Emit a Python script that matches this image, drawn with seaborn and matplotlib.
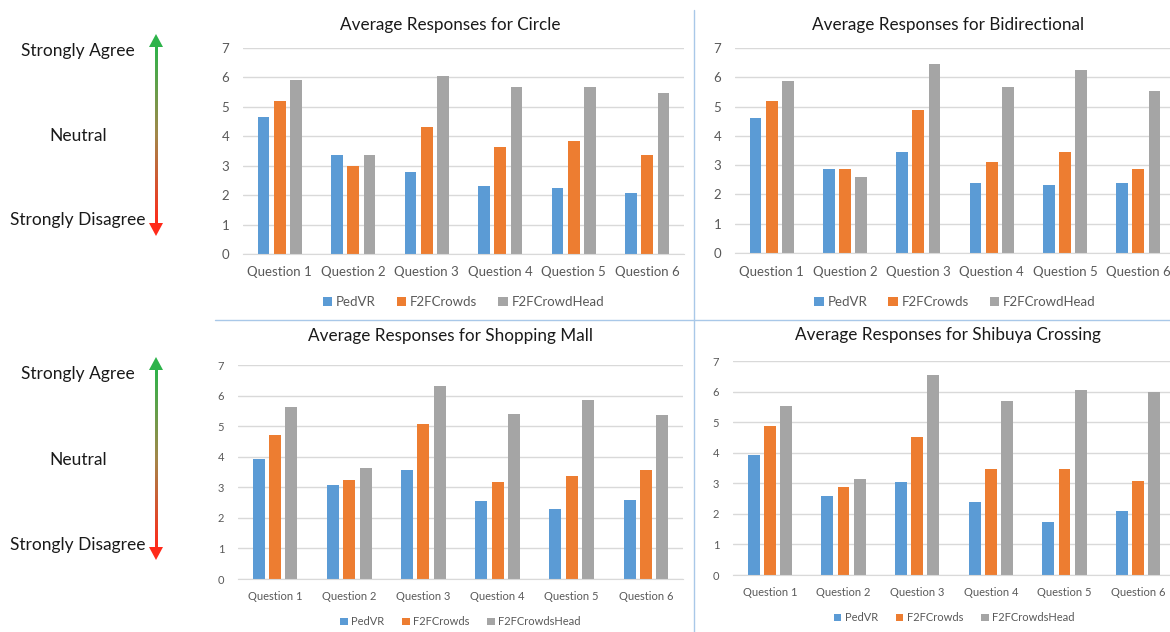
import pandas as pd
import seaborn as sns
import matplotlib.pyplot as plt
import numpy as np
from matplotlib.colors import LinearSegmentedColormap
from matplotlib.patches import Polygon

# values
questions = ['Question 1', 'Question 2', 'Question 3', 'Question 4', 'Question 5', 'Question 6']

circle_pedvr = [4.64, 3.37, 2.79, 2.30, 2.23, 2.06]
circle_crowds = [5.20, 3.00, 4.33, 3.65, 3.85, 3.37]
circle_head = [5.91, 3.37, 6.05, 5.66, 5.66, 5.46]

bidir_pedvr = [4.60, 2.88, 3.45, 2.39, 2.32, 2.39]
bidir_crowds = [5.19, 2.88, 4.88, 3.11, 3.45, 2.88]
bidir_head = [5.88, 2.60, 6.47, 5.66, 6.25, 5.52]

mall_pedvr = [3.93, 3.07, 3.56, 2.54, 2.28, 2.57]
mall_crowds = [4.71, 3.23, 5.07, 3.17, 3.36, 3.56]
mall_head = [5.61, 3.63, 6.32, 5.40, 5.87, 5.37]

shibuya_pedvr = [3.93, 2.59, 3.04, 2.38, 1.73, 2.09]
shibuya_crowds = [4.89, 2.88, 4.53, 3.48, 3.48, 3.08]
shibuya_head = [5.52, 3.14, 6.54, 5.68, 6.05, 5.99]

scale_labels = ['Strongly Agree', 'Neutral', 'Strongly Disagree']

colors = ['#5B9BD5', '#ED7D31', '#A5A5A5']

sns.set_style('white')
plt.rcParams['font.family'] = ['Lato', 'DejaVu Sans']

W, H = 1170, 632
fig = plt.figure(figsize=(W / 100, H / 100), dpi=100)

# full-figure overlay in pixel coordinates for separators and the scale
bg = fig.add_axes([0, 0, 1, 1])
bg.axis('off')
sep = '#A9C8E8'
bg.plot([694, 694], [10, H], color=sep, lw=1)
bg.plot([215, W], [320, 320], color=sep, lw=1)

cmap = LinearSegmentedColormap.from_list('scale', ['#2DB34A', '#A3884A', '#FF2A1A'])
grad = np.linspace(0, 1, 256).reshape(-1, 1)


def draw_scale(top, bottom, text_y):
    x = 156
    # gradient shaft
    bg.imshow(grad, cmap=cmap, aspect='auto', origin='upper',
              extent=(x - 1.4, x + 1.4, bottom - 12, top + 12), interpolation='bilinear')
    bg.add_patch(Polygon([(x, top), (x - 7, top + 13), (x + 7, top + 13)], color=cmap(0.0), lw=0))
    bg.add_patch(Polygon([(x, bottom), (x - 7, bottom - 13), (x + 7, bottom - 13)], color=cmap(1.0), lw=0))
    for lab, ty in zip(scale_labels, text_y):
        bg.text(78, ty, lab, ha='center', va='center', fontsize=12.5, color='#1a1a1a')


draw_scale(34, 236, [51, 136, 220])
draw_scale(357, 560, [374, 460, 545])
bg.set_xlim(0, W)
bg.set_ylim(H, 0)


def panel_frame(pedvr, crowds, head, head_name):
    return pd.DataFrame({
        'question': questions * 3,
        'value': pedvr + crowds + head,
        'method': ['PedVR'] * 6 + ['F2FCrowds'] * 6 + [head_name] * 6,
    })


def draw_panel(df, rect, title, title_xy, tick_fs, legend_y, legend_fs):
    x0, y0, x1, y1 = rect
    ax = fig.add_axes([x0 / W, 1 - y1 / H, (x1 - x0) / W, (y1 - y0) / H])
    sns.barplot(data=df, x='question', y='value', hue='method', palette=colors,
                width=0.66, gap=0.27, ax=ax, saturation=1, edgecolor='none')
    ax.set_ylim(0, 7)
    ax.set_xlim(-0.5, 5.5)
    ax.set_yticks(range(8))
    ax.set_xlabel('')
    ax.set_ylabel('')
    ax.grid(axis='y', color='#D9D9D9', lw=1)
    ax.set_axisbelow(True)
    for s in ['top', 'right', 'left']:
        ax.spines[s].set_visible(False)
    ax.spines['bottom'].set_color('#D9D9D9')
    ax.tick_params(length=0, labelsize=tick_fs, labelcolor='#595959')
    ax.tick_params(axis='y', pad=10)
    ax.tick_params(axis='x', pad=9)
    sns.move_legend(ax, 'center', bbox_to_anchor=(0.5, legend_y), ncol=3, frameon=False,
                    title=None, fontsize=legend_fs, handlelength=0.7, handleheight=0.7,
                    handletextpad=0.3, columnspacing=1.6, labelcolor='#595959')
    fig.text(title_xy[0] / W, 1 - title_xy[1] / H, title, ha='center', va='center',
             fontsize=12.3, color='#1a1a1a')
    return ax


draw_panel(panel_frame(circle_pedvr, circle_crowds, circle_head, 'F2FCrowdHead'),
           (243, 48, 684, 254), 'Average Responses for Circle', (450, 25), 9.5, -0.233, 9.5)
draw_panel(panel_frame(bidir_pedvr, bidir_crowds, bidir_head, 'F2FCrowdHead'),
           (735, 48, 1175, 253), 'Average Responses for Bidirectional', (948, 25), 9.5, -0.238, 9.5)
draw_panel(panel_frame(mall_pedvr, mall_crowds, mall_head, 'F2FCrowdsHead'),
           (238, 365, 683, 579), 'Average Responses for Shopping Mall', (450, 336), 8, -0.2, 8)
draw_panel(panel_frame(shibuya_pedvr, shibuya_crowds, shibuya_head, 'F2FCrowdsHead'),
           (733, 361, 1175, 575), 'Average Responses for Shibuya Crossing', (948, 335), 8, -0.2, 8)

fig.savefig('out.png', dpi=100)
